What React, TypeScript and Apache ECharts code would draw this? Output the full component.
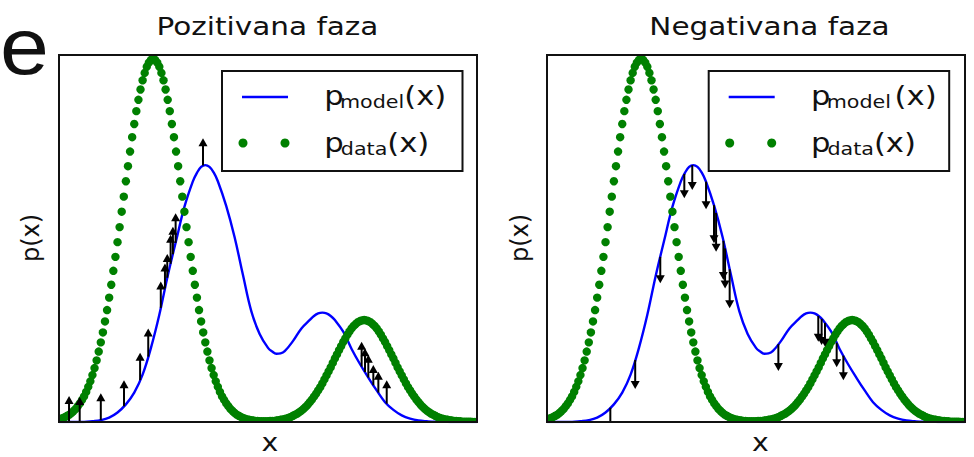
import React, { useEffect, useRef } from 'react';
import * as echarts from 'echarts';

// ---------- texts ----------
const panelTitles = ['Pozitivana faza', 'Negativana faza'];
const xAxisName = 'x';
const yAxisName = 'p(x)';
const legendModel = ['p', 'model', '(x)'];
const legendData = ['p', 'data', '(x)'];
const strayLetter = 'e';

// ---------- p_data(x): dotted green curve, one value per sample (x = sample index 0..200) ----------
const pDataY = [
  0.007, 0.009, 0.011, 0.014, 0.017, 0.020, 0.025, 0.030, 0.036, 0.043, 0.051,
  0.060, 0.070, 0.082, 0.096, 0.111, 0.128, 0.147, 0.168, 0.192, 0.217,
  0.244, 0.274, 0.305, 0.339, 0.374, 0.412, 0.450, 0.490, 0.531, 0.573,
  0.614, 0.656, 0.697, 0.737, 0.776, 0.812, 0.847, 0.878, 0.906, 0.931,
  0.951, 0.968, 0.979, 0.987, 0.989,
  0.987, 0.979, 0.968, 0.951, 0.931,
  0.906, 0.878, 0.847, 0.812, 0.776, 0.737, 0.697, 0.656, 0.614, 0.573,
  0.531, 0.490, 0.450, 0.412, 0.374, 0.339, 0.305, 0.274, 0.244, 0.217,
  0.192, 0.168, 0.147, 0.128, 0.111, 0.096, 0.082, 0.070, 0.060, 0.051,
  0.043, 0.036, 0.030, 0.025, 0.020, 0.017, 0.014, 0.011, 0.009, 0.007,
  0.006, 0.005, 0.004, 0.003, 0.003, 0.002, 0.002, 0.002, 0.002, 0.002,
  0.003, 0.003, 0.003, 0.004, 0.005, 0.006, 0.007, 0.008, 0.010, 0.012,
  0.014, 0.017, 0.020, 0.023, 0.027, 0.031, 0.036, 0.041, 0.047, 0.054,
  0.061, 0.069, 0.077, 0.086, 0.095, 0.105, 0.116, 0.127, 0.138, 0.149,
  0.161, 0.173, 0.184, 0.196, 0.207, 0.218, 0.228, 0.238, 0.247, 0.255,
  0.262, 0.267, 0.272, 0.275, 0.277, 0.278,
  0.277, 0.275, 0.272, 0.267,
  0.262, 0.255, 0.247, 0.238, 0.228, 0.218, 0.207, 0.196, 0.184, 0.173,
  0.161, 0.149, 0.138, 0.127, 0.116, 0.105, 0.095, 0.086, 0.077, 0.069,
  0.061, 0.054, 0.047, 0.041, 0.036, 0.031, 0.027, 0.023, 0.020, 0.017,
  0.014, 0.012, 0.010, 0.008, 0.007, 0.006, 0.005, 0.004, 0.003, 0.003,
  0.002, 0.002, 0.001, 0.001, 0.001, 0.001, 0.001, 0.000, 0.000, 0.000,
];

// ---------- p_model(x): blue line ----------
const pModelX = [
  0, 4, 8, 12, 16, 20, 24, 28, 32, 36, 40, 44, 48, 52, 56, 60, 64, 66, 68, 70,
  72, 74, 76, 80, 84, 88, 92, 96, 100, 102, 104, 106, 108, 112, 116, 120, 122,
  124, 126, 128, 130, 132, 136, 140, 144, 148, 152, 156, 160, 164, 168, 172,
  176, 180, 184, 188, 192, 196, 200,
];
const pModelY = [
  0, 0, 0, 0, 0.002, 0.005, 0.012, 0.026, 0.048, 0.080, 0.129, 0.202, 0.292,
  0.398, 0.493, 0.586, 0.655, 0.679, 0.695, 0.700, 0.695, 0.680, 0.656, 0.589,
  0.504, 0.401, 0.302, 0.240, 0.202, 0.192, 0.186, 0.187, 0.193, 0.221, 0.255,
  0.278, 0.289, 0.296, 0.298, 0.296, 0.289, 0.278, 0.246, 0.199, 0.158, 0.121,
  0.086, 0.054, 0.033, 0.018, 0.009, 0.004, 0.002, 0.001, 0.001, 0, 0, 0, 0,
];

// ---------- arrows: positive phase (up), negative phase (down) ----------
const posArrowX = [4.8, 9.9, 20, 31.1, 38.8, 42.7, 48.7, 50.7, 51.8, 53.4, 54.5, 55.8, 68.9, 144.8, 146.4, 148, 150.4, 152.8, 156.8];
const posArrowFrom = [0, 0, 0.005, 0.043, 0.114, 0.178, 0.311, 0.364, 0.393, 0.431, 0.457, 0.488, 0.699, 0.151, 0.136, 0.121, 0.100, 0.080, 0.050];
const posArrowTo = [0.071, 0.068, 0.078, 0.114, 0.189, 0.255, 0.383, 0.432, 0.458, 0.510, 0.532, 0.569, 0.773, 0.219, 0.201, 0.183, 0.155, 0.137, 0.114];

const negArrowX = [30.3, 42.2, 54.2, 65.7, 69.5, 76.1, 79.9, 80.9, 84.4, 85.2, 87.4, 110.7, 129.8, 131.4, 133, 138.6, 141.8];
const negArrowFrom = [0.039, 0.169, 0.450, 0.676, 0.700, 0.655, 0.591, 0.570, 0.494, 0.473, 0.416, 0.212, 0.289, 0.281, 0.270, 0.216, 0.181];
const negArrowTo = [-0.040, 0.090, 0.378, 0.610, 0.632, 0.580, 0.487, 0.464, 0.387, 0.364, 0.310, 0.139, 0.219, 0.210, 0.205, 0.149, 0.114];

// ---------- layout ----------
const W = 974;
const H = 457;
const PANELS = [
  { left: 59, top: 55, width: 418, height: 367, titleX: 267.5, xLabelX: 270, yLabelX: 31.2, legendDx: 0, modelParenDx: 0 },
  { left: 547, top: 55, width: 418, height: 367, titleX: 769.5, xLabelX: 760.3, yLabelX: 520.2, legendDx: 486.7, modelParenDx: 3.7 },
];
const SX = 1.18;
const FONT = 'DejaVu Sans';
const INK = '#111';
const BLUE = '#0000ff';
const GREEN = '#008000';

function txt(text: string, x: number, y: number, size: number, align: string = 'left', extra: any = {}) {
  return {
    type: 'text',
    x,
    y,
    scaleX: SX,
    z: 120,
    silent: true,
    style: { text, fontSize: size, fontFamily: FONT, fill: INK, align, verticalAlign: 'middle' },
    ...extra,
  };
}

function arrowRender(params: any, api: any) {
  const x = api.value(0);
  const y0 = api.value(1);
  const y1 = api.value(2);
  const p0 = api.coord([x, y0]);
  const p1 = api.coord([x, y1]);
  const dir = p1[1] < p0[1] ? -1 : 1;
  const headLen = 8;
  const headHalf = 4.5;
  const baseY = p1[1] - dir * headLen;
  return {
    type: 'group',
    children: [
      {
        type: 'line',
        shape: { x1: p0[0], y1: p0[1], x2: p0[0], y2: baseY + dir * 1 },
        style: { stroke: '#000', lineWidth: 2 },
      },
      {
        type: 'polygon',
        shape: { points: [[p1[0], p1[1]], [p1[0] - headHalf, baseY], [p1[0] + headHalf, baseY]] },
        style: { fill: '#000' },
      },
    ],
  };
}

function dotRender(params: any, api: any) {
  const p = api.coord([api.value(0), api.value(1)]);
  return { type: 'circle', shape: { cx: p[0], cy: p[1], r: 4.2 }, style: { fill: GREEN } };
}

export default function App() {
  const ref = useRef<HTMLDivElement>(null);

  useEffect(() => {
    if (!ref.current) return;
    const chart = echarts.init(ref.current, undefined, { renderer: 'svg', width: W, height: H });

    const modelData = pModelX.map((x, i) => [x, pModelY[i]]);
    const dataPoints = pDataY.map((y, i) => [i, y]);
    const posArrows = posArrowX.map((x, i) => [x, posArrowFrom[i], posArrowTo[i]]);
    const negArrows = negArrowX.map((x, i) => [x, negArrowFrom[i], negArrowTo[i]]);

    const series: any[] = [];
    PANELS.forEach((p, k) => {
      series.push({
        type: 'line',
        xAxisIndex: k,
        yAxisIndex: k,
        data: modelData,
        smooth: 0.4,
        showSymbol: false,
        symbol: 'none',
        lineStyle: { color: BLUE, width: 2.4 },
        clip: true,
        silent: true,
        z: 2,
      });
      series.push({
        type: 'custom',
        xAxisIndex: k,
        yAxisIndex: k,
        data: dataPoints,
        renderItem: dotRender,
        clip: true,
        silent: true,
        z: 3,
      });
      series.push({
        type: 'custom',
        xAxisIndex: k,
        yAxisIndex: k,
        data: k === 0 ? posArrows : negArrows,
        renderItem: arrowRender,
        clip: true,
        silent: true,
        z: 4,
      });
    });

    const graphics: any[] = [];
    PANELS.forEach((p, k) => {
      const d = p.legendDx;
      graphics.push({
        type: 'rect',
        z: 100,
        silent: true,
        shape: { x: p.left, y: p.top, width: p.width, height: p.height },
        style: { fill: 'none', stroke: INK, lineWidth: 2 },
      });
      graphics.push({
        type: 'rect',
        z: 101,
        silent: true,
        shape: { x: 222 + d, y: 71, width: 240.5, height: 100 },
        style: { fill: '#fff', stroke: INK, lineWidth: 2 },
      });
      graphics.push({
        type: 'line',
        z: 102,
        silent: true,
        shape: { x1: 242 + d, y1: 97, x2: 288 + d, y2: 97 },
        style: { stroke: BLUE, lineWidth: 2.5 },
      });
      graphics.push({ type: 'circle', z: 102, silent: true, shape: { cx: 243 + d, cy: 143, r: 4.5 }, style: { fill: GREEN } });
      graphics.push({ type: 'circle', z: 102, silent: true, shape: { cx: 285 + d, cy: 143, r: 4.5 }, style: { fill: GREEN } });
      graphics.push(txt(legendModel[0], 324.2 + d, 95.9, 26));
      graphics.push(txt(legendModel[1], 340 + d, 101.9, 17.5));
      graphics.push(txt(legendModel[2], 404.2 + d + p.modelParenDx, 95.9, 26));
      graphics.push(txt(legendData[0], 324.2 + d, 142.9, 26));
      graphics.push(txt(legendData[1], 340.8 + d, 148.9, 17.5));
      graphics.push(txt(legendData[2], 387.2 + d, 142.9, 26));
      graphics.push(txt(panelTitles[k], p.titleX, 26.25, 25, 'center'));
      graphics.push(txt(xAxisName, p.xLabelX, 443, 24, 'center'));
      graphics.push({
        type: 'text',
        x: p.yLabelX,
        y: 238,
        rotation: Math.PI / 2,
        z: 120,
        silent: true,
        style: { text: yAxisName, fontSize: 24, fontFamily: FONT, fill: INK, align: 'center', verticalAlign: 'middle' },
      });
    });
    graphics.push({
      type: 'text',
      x: 0,
      y: 46,
      scaleX: 1.1,
      z: 120,
      silent: true,
      style: { text: strayLetter, fontSize: 80, fontFamily: 'Liberation Sans', fill: INK, align: 'left', verticalAlign: 'middle' },
    });

    chart.setOption({
      animation: false,
      backgroundColor: '#fff',
      grid: PANELS.map((p) => ({ left: p.left, top: p.top, width: p.width, height: p.height, show: false })),
      xAxis: PANELS.map((p, k) => ({ gridIndex: k, type: 'value', min: 0, max: 200, show: false })),
      yAxis: PANELS.map((p, k) => ({ gridIndex: k, type: 'value', min: 0, max: 1, show: false })),
      series,
      graphic: { elements: graphics },
    });

    return () => {
      chart.dispose();
    };
  }, []);

  return <div ref={ref} style={{ position: 'absolute', left: 0, top: 0, width: W, height: H }} />;
}
